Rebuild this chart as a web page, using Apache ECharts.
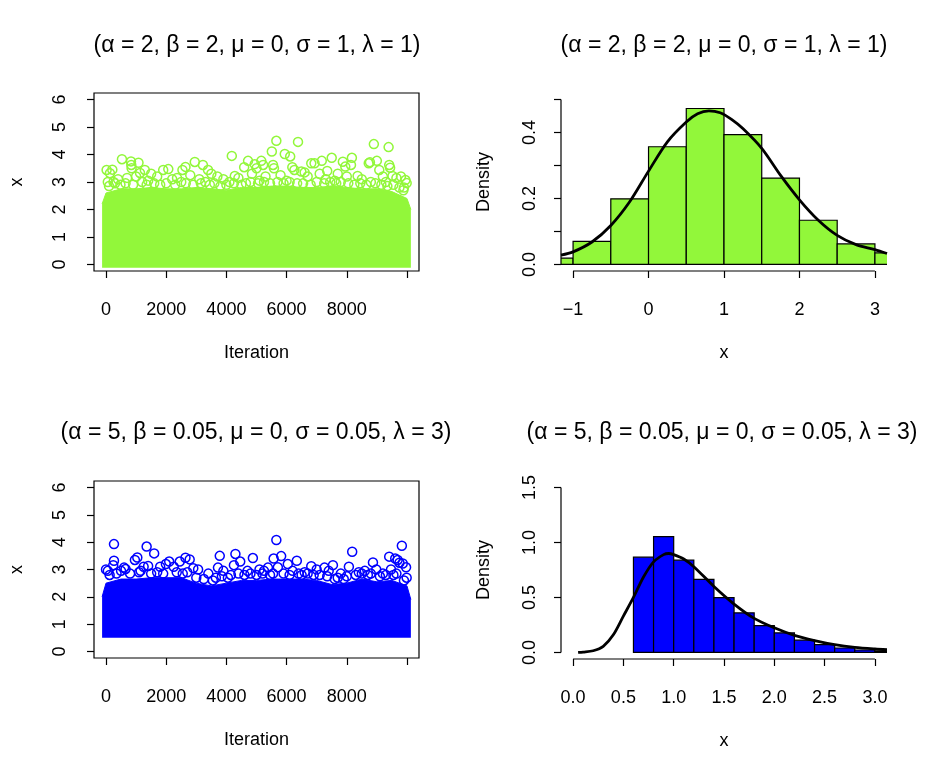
<!DOCTYPE html>
<html>
<head>
<meta charset="utf-8">
<title>MCMC traces</title>
<script src="https://cdn.jsdelivr.net/npm/echarts@6/dist/echarts.min.js"></script>
<style>
  html, body { margin: 0; padding: 0; background: #fff; }
  #chart { width: 935px; height: 775px; }
</style>
</head>
<body>
<div id="chart"></div>
<script>
// ---- data ----
var titleA = '(\u03b1 = 2, \u03b2 = 2, \u03bc = 0, \u03c3 = 1, \u03bb = 1)'
var titleB = '(\u03b1 = 5, \u03b2 = 0.05, \u03bc = 0, \u03c3 = 0.05, \u03bb = 3)'

// trace A: the dense band (upper edge of the solid mass) and the stray points above it
var bandIter = [-130, 0, 500, 1000, 1500, 2000, 2500, 3000, 3500, 4000, 4500, 5000,
  5500, 6000, 6500, 7000, 7500, 8000, 8500, 9000, 9500, 10000, 10130]
var bandTopA = [2.2, 2.6, 2.75, 2.75, 2.8, 2.75, 2.75, 2.8, 2.75, 2.7, 2.8, 2.8,
  2.85, 2.85, 2.8, 2.8, 2.85, 2.8, 2.75, 2.75, 2.65, 2.4, 2.0]
var bandLowA = -0.12
var traceIterA = [20, 130, 210, 60, 530, 830, 840, 850, 1080, 1130, 1290, 1500, 1900, 2070,
  2360, 2540, 2640, 2950, 3220, 3390, 3500, 3700, 4180, 4280, 4590, 4720, 4940, 5000, 5160,
  5220, 5510, 5550, 5580, 5660, 5940, 6120, 6190, 6260, 6380, 6490, 6600, 6820, 6930, 7170,
  7350, 7500, 7700, 7870, 7950, 8140, 8170, 8360, 8730, 8770, 8900, 9000, 9080, 9390, 9410,
  9440, 9520, 9800, 9950, 9990, 400, 700, 1000, 1700, 2200, 2800, 3100, 3900, 4400, 4850,
  5300, 5800, 6700, 7100, 7300, 8000, 8500, 9200, 9650, 250, 1400, 2500, 3300, 4100, 5100,
  6000, 7600, 8800, 9300, 9900,
  // lower fringe, just above the solid mass
  100, 300, 480, 650, 900, 1200, 1350, 1600, 1800, 2000, 2300, 2650, 2900, 3150, 3450, 3600,
  3800, 4000, 4250, 4500, 4650, 4800, 5050, 5250, 5450, 5700, 5900, 6100, 6350, 6550, 6800,
  7000, 7250, 7450, 7650, 7800, 8050, 8250, 8450, 8650, 8950, 9150, 9350, 9550, 9750, 9880]
var traceValA = [3.44, 3.32, 3.45, 3.0, 3.83, 3.75, 3.62, 3.5, 3.7, 3.33, 3.44, 3.3, 3.44, 3.47,
  3.15, 3.44, 3.55, 3.73, 3.62, 3.44, 3.3, 3.2, 3.95, 3.22, 3.54, 3.77, 3.65, 3.5, 3.77,
  3.62, 4.11, 3.62, 3.5, 4.5, 4.02, 3.93, 3.54, 3.44, 4.46, 3.38, 3.35, 3.68, 3.68, 3.77,
  3.4, 3.88, 3.3, 3.74, 3.56, 3.62, 3.88, 3.22, 3.68, 3.72, 4.38, 3.77, 3.44, 4.27, 3.62,
  3.52, 3.22, 3.2, 3.07, 2.96, 3.1, 3.15, 3.2, 3.2, 3.1, 3.25, 3.1, 3.1, 3.15, 3.3,
  3.2, 3.25, 3.2, 3.3, 3.1, 3.2, 3.1, 3.2, 3.15, 3.0, 3.05, 3.0, 3.0, 3.0, 3.05,
  3.05, 3.05, 3.0, 3.0, 2.8,
  2.85, 2.95, 2.9, 2.95, 2.9, 3.0, 2.9, 2.95, 2.9, 2.95, 2.9, 2.95, 2.9, 2.95, 2.9, 2.95,
  2.85, 2.9, 2.95, 2.9, 2.95, 3.0, 2.95, 3.0, 2.95, 3.0, 2.95, 3.0, 2.95, 2.95, 2.9,
  3.0, 2.95, 3.0, 2.95, 3.0, 2.95, 2.9, 2.95, 2.9, 2.95, 2.9, 2.85, 2.9, 2.8, 2.7]

// trace B
var bandTopB = [2.0, 2.5, 2.65, 2.65, 2.7, 2.7, 2.7, 2.5, 2.4, 2.5, 2.6, 2.6,
  2.65, 2.65, 2.65, 2.6, 2.45, 2.5, 2.65, 2.55, 2.6, 2.4, 1.9]
var bandLowB = 0.5
var traceIterB = [265, 265, 240, 0, 60, 600, 650, 960, 1040, 1350, 1400, 1250, 1600, 1800, 1990,
  2100, 2250, 2450, 2640, 2780, 2900, 3060, 3400, 3720, 3780, 3900, 4250, 4300, 4460, 4700,
  4880, 5100, 5380, 5570, 5660, 5710, 5820, 6040, 6200, 6340, 6600, 6820, 7000, 7260, 7540,
  7800, 8070, 8180, 8400, 8600, 8870, 8980, 9200, 9410, 9470, 9610, 9690, 9750, 9830, 9860,
  9970, 9990, 500, 1150, 5250, 7400,
  // lower fringe
  120, 350, 800, 1100, 1500, 1700, 1900, 2350, 2550, 2700, 3000, 3250, 3550, 3650, 3850, 4050,
  4150, 4400, 4600, 4800, 5000, 5200, 5450, 5550, 5900, 6100, 6400, 6500, 6700, 6900, 7100,
  7350, 7600, 7700, 7900, 8000, 8300, 8500, 8700, 8800, 9100, 9300, 9550, 9650, 9900]
var traceValB = [3.93, 3.32, 3.16, 3.0, 2.95, 3.07, 3.02, 3.35, 3.44, 3.84, 3.13, 3.1, 3.59, 3.1, 3.2,
  3.29, 3.1, 3.29, 3.43, 3.37, 3.05, 3.0, 2.85, 3.07, 3.5, 2.95, 3.16, 3.57, 3.29, 2.95,
  3.42, 3.0, 3.07, 3.4, 4.08, 3.08, 3.49, 3.2, 2.95, 3.32, 2.9, 3.12, 3.0, 3.07, 3.16,
  2.85, 3.1, 3.65, 2.9, 2.95, 3.26, 3.0, 2.85, 3.47, 3.0, 3.4, 3.35, 3.25, 3.87, 3.22,
  3.08, 2.7, 2.95, 2.95, 2.95, 2.95,
  2.8, 2.85, 2.85, 2.9, 2.85, 2.9, 2.85, 2.9, 2.85, 2.9, 2.7, 2.65, 2.6, 2.7, 2.75, 2.7,
  2.8, 2.85, 2.8, 2.85, 2.8, 2.85, 2.8, 2.85, 2.85, 2.8, 2.85, 2.8, 2.85, 2.8, 2.8,
  2.75, 2.65, 2.7, 2.65, 2.75, 2.8, 2.85, 2.8, 2.85, 2.75, 2.8, 2.8, 2.85, 2.6]

// histograms (breaks and densities) and fitted density curves
var histBreaksA = [-1.5, -1, -0.5, 0, 0.5, 1, 1.5, 2, 2.5, 3, 3.5]
var histDensA = [0.019, 0.070, 0.199, 0.357, 0.473, 0.394, 0.262, 0.134, 0.062, 0.035]
var curveXA = [-1.16, -1, -0.75, -0.5, -0.25, 0, 0.25, 0.5, 0.65, 0.8, 0.95, 1.1, 1.25, 1.5,
  1.75, 2, 2.25, 2.5, 2.75, 3, 3.16]
var curveYA = [0.028, 0.038, 0.068, 0.118, 0.19, 0.283, 0.372, 0.432, 0.457, 0.466, 0.46, 0.44,
  0.412, 0.352, 0.27, 0.196, 0.134, 0.088, 0.06, 0.045, 0.033]

var histBreaksB = [0.6, 0.8, 1.0, 1.2, 1.4, 1.6, 1.8, 2.0, 2.2, 2.4, 2.6, 2.8, 3.0, 3.2]
var histDensB = [0.867, 1.054, 0.839, 0.664, 0.498, 0.360, 0.243, 0.178, 0.111, 0.071, 0.040,
  0.022, 0.012]
var curveXB = [0.05, 0.1, 0.2, 0.3, 0.4, 0.5, 0.6, 0.7, 0.8, 0.9, 0.95, 1.0, 1.1, 1.2, 1.4, 1.6,
  1.8, 2.0, 2.2, 2.4, 2.6, 2.8, 3.0, 3.12]
var curveYB = [0, 0.003, 0.015, 0.055, 0.16, 0.33, 0.5, 0.686, 0.824, 0.89, 0.9, 0.89, 0.85,
  0.78, 0.60, 0.44, 0.31, 0.224, 0.155, 0.108, 0.071, 0.046, 0.031, 0.025]

// axis ticks
var iterTicks = [0, 2000, 4000, 6000, 8000, 10000]
var iterLabels = [0, 2000, 4000, 6000, 8000]
var traceTicks = [0, 1, 2, 3, 4, 5, 6]
var xTicksA = [-1, 0, 1, 2, 3]
var yTicksA = [0, 0.1, 0.2, 0.3, 0.4, 0.5]
var yLabelsA = [0, 0.2, 0.4]
var xTicksB = [0, 0.5, 1, 1.5, 2, 2.5, 3]
var yTicksB = [0, 0.5, 1, 1.5]

var GREEN = '#92F73A'
var BLUE = '#0000FF'
var FONT = "'Liberation Sans', Arial, Helvetica, sans-serif"

function zip(a, b) {
  return a.map(function (v, i) { return [v, b[i]] })
}

function plain(v) { return v < 0 ? '\u2212' + Math.abs(v) : String(v) }
function oneDec(v) { return Number(v).toFixed(1) }

function xAxisOf(idx, min, max, ticks, labels, name, fmt) {
  return {
    type: 'value', gridIndex: idx, min: min, max: max,
    axisLine: { show: false, onZero: false },
    splitLine: { show: false },
    axisTick: { show: true, inside: false, customValues: ticks, length: 7, lineStyle: { color: '#000', width: 1.2 } },
    axisLabel: {
      customValues: labels, margin: 30, color: '#000', fontSize: 18, fontFamily: FONT,
      formatter: fmt || plain
    },
    name: name, nameLocation: 'middle', nameGap: 73,
    nameTextStyle: { color: '#000', fontSize: 18, fontFamily: FONT }
  }
}

function yAxisOf(idx, min, max, ticks, labels, name, fmt, margin) {
  return {
    type: 'value', gridIndex: idx, min: min, max: max,
    axisLine: { show: false, onZero: false },
    splitLine: { show: false },
    axisTick: { show: true, inside: false, customValues: ticks, length: 7, lineStyle: { color: '#000', width: 1.2 } },
    axisLabel: {
      customValues: labels, rotate: 90, margin: margin, color: '#000', fontSize: 18, fontFamily: FONT,
      formatter: fmt || plain
    },
    name: name, nameLocation: 'middle', nameGap: 68,
    nameTextStyle: { color: '#000', fontSize: 18, fontFamily: FONT }
  }
}

function bandSeries(idx, top, low, color) {
  return {
    type: 'line', xAxisIndex: idx, yAxisIndex: idx, silent: true,
    data: zip(bandIter, top), symbol: 'none',
    lineStyle: { color: color, width: 1 },
    areaStyle: { color: color, opacity: 1, origin: low }
  }
}

function traceSeries(idx, iters, vals, color) {
  return {
    type: 'scatter', xAxisIndex: idx, yAxisIndex: idx, silent: true,
    data: zip(iters, vals), symbol: 'circle', symbolSize: 9,
    itemStyle: { color: 'rgba(0,0,0,0)', borderColor: color, borderWidth: 1.5, opacity: 1 }
  }
}

function histSeries(idx, breaks, dens, color) {
  return {
    type: 'custom', xAxisIndex: idx, yAxisIndex: idx, silent: true, clip: true,
    data: dens.map(function (d, i) { return [breaks[i], breaks[i + 1], d] }),
    encode: { x: [0, 1], y: 2 },
    renderItem: function (params, api) {
      var p0 = api.coord([api.value(0), api.value(2)])
      var p1 = api.coord([api.value(1), 0])
      return {
        type: 'rect',
        shape: { x: p0[0], y: p0[1], width: p1[0] - p0[0], height: p1[1] - p0[1] },
        style: { fill: color, stroke: '#000', lineWidth: 1.2 }
      }
    }
  }
}

function curveSeries(idx, xs, ys) {
  return {
    type: 'line', xAxisIndex: idx, yAxisIndex: idx, silent: true,
    data: zip(xs, ys), symbol: 'none', smooth: 0.3,
    lineStyle: { color: '#000', width: 2.8 }
  }
}

// R-style axis line, running only from first to last tick
function axisLineSeries(idx, pts) {
  return {
    type: 'line', xAxisIndex: idx, yAxisIndex: idx, silent: true, clip: false,
    data: pts, symbol: 'none', lineStyle: { color: '#000', width: 1.2 }
  }
}

var chart = echarts.init(document.getElementById('chart'))

var yMinA = -0.02, yMaxA = 0.52, xMinA = -1.16, xMaxA = 3.16
var yMinB = -0.06, yMaxB = 1.56, xMinB = -0.12, xMaxB = 3.12

var titleStyle = { color: '#000', fontSize: 23, fontWeight: 'normal', fontFamily: FONT }

var option = {
  animation: false,
  backgroundColor: '#fff',
  title: [
    { text: titleA, left: 257, top: 34, textAlign: 'center', padding: 0, textStyle: titleStyle },
    { text: titleA, left: 724, top: 34, textAlign: 'center', padding: 0, textStyle: titleStyle },
    { text: titleB, left: 256, top: 421, textAlign: 'center', padding: 0, textStyle: titleStyle },
    { text: titleB, left: 722, top: 421, textAlign: 'center', padding: 0, textStyle: titleStyle }
  ],
  grid: [
    { left: 94, top: 93, width: 325, height: 178, show: true, borderColor: '#000', borderWidth: 1.2 },
    { left: 561, top: 93, width: 326, height: 178 },
    { left: 94, top: 481, width: 325, height: 177, show: true, borderColor: '#000', borderWidth: 1.2 },
    { left: 561, top: 481, width: 326, height: 178 }
  ],
  xAxis: [
    xAxisOf(0, -399, 10400, iterTicks, iterLabels, 'Iteration'),
    xAxisOf(1, xMinA, xMaxA, xTicksA, xTicksA, 'x'),
    xAxisOf(2, -399, 10400, iterTicks, iterLabels, 'Iteration'),
    xAxisOf(3, xMinB, xMaxB, xTicksB, xTicksB, 'x', oneDec)
  ],
  yAxis: [
    yAxisOf(0, -0.24, 6.24, traceTicks, traceTicks, 'x', null, 25),
    yAxisOf(1, yMinA, yMaxA, yTicksA, yLabelsA, 'Density', oneDec, 22),
    yAxisOf(2, -0.24, 6.24, traceTicks, traceTicks, 'x', null, 25),
    yAxisOf(3, yMinB, yMaxB, yTicksB, yTicksB, 'Density', oneDec, 22)
  ],
  series: [
    bandSeries(0, bandTopA, bandLowA, GREEN),
    traceSeries(0, traceIterA, traceValA, GREEN),
    histSeries(1, histBreaksA, histDensA, GREEN),
    curveSeries(1, curveXA, curveYA),
    axisLineSeries(1, [[xTicksA[0], yMinA], [xTicksA[xTicksA.length - 1], yMinA]]),
    axisLineSeries(1, [[xMinA, yTicksA[0]], [xMinA, yTicksA[yTicksA.length - 1]]]),
    bandSeries(2, bandTopB, bandLowB, BLUE),
    traceSeries(2, traceIterB, traceValB, BLUE),
    histSeries(3, histBreaksB, histDensB, BLUE),
    curveSeries(3, curveXB, curveYB),
    axisLineSeries(3, [[xTicksB[0], yMinB], [xTicksB[xTicksB.length - 1], yMinB]]),
    axisLineSeries(3, [[xMinB, yTicksB[0]], [xMinB, yTicksB[yTicksB.length - 1]]])
  ]
}

chart.setOption(option)
</script>
</body>
</html>
